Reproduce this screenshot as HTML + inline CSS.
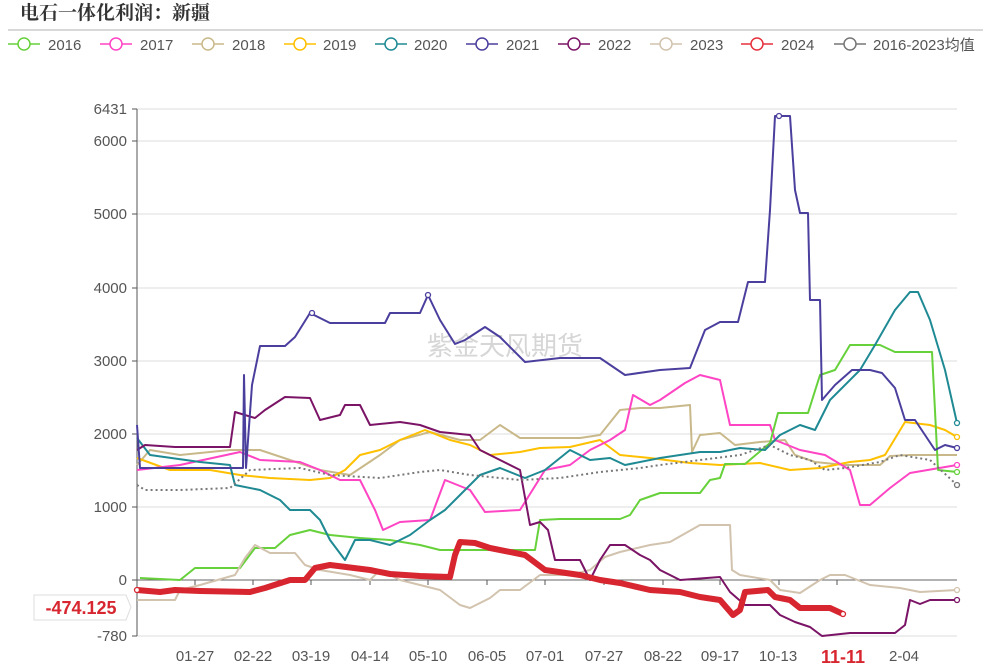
<!DOCTYPE html>
<html><head><meta charset="utf-8"><style>
body{margin:0;background:#fff;width:983px;height:667px;overflow:hidden;font-family:"Liberation Sans","Noto Sans CJK SC",sans-serif}
</style></head><body>
<svg width="983" height="667" xmlns="http://www.w3.org/2000/svg" font-family="Liberation Sans, Noto Sans CJK SC, sans-serif">
<text x="20" y="19" font-size="19" font-weight="bold" fill="#333" font-family="Noto Serif CJK SC, serif">电石一体化利润：新疆</text>
<line x1="8" y1="30" x2="983" y2="30" stroke="#ccc" stroke-width="1.5"/>
<g font-size="15" fill="#555">
<g fill="none" stroke-width="1.5">
<line x1="8" y1="44" x2="40" y2="44" stroke="#66d13a"/><circle cx="24" cy="44" r="6" fill="#fff" stroke="#66d13a"/>
<line x1="100" y1="44" x2="132" y2="44" stroke="#ff44c4"/><circle cx="116" cy="44" r="6" fill="#fff" stroke="#ff44c4"/>
<line x1="192" y1="44" x2="224" y2="44" stroke="#c9b98a"/><circle cx="208" cy="44" r="6" fill="#fff" stroke="#c9b98a"/>
<line x1="284" y1="44" x2="316" y2="44" stroke="#ffc000"/><circle cx="300" cy="44" r="6" fill="#fff" stroke="#ffc000"/>
<line x1="375" y1="44" x2="407" y2="44" stroke="#1f8a93"/><circle cx="391" cy="44" r="6" fill="#fff" stroke="#1f8a93"/>
<line x1="466" y1="44" x2="498" y2="44" stroke="#4b3f9e"/><circle cx="482" cy="44" r="6" fill="#fff" stroke="#4b3f9e"/>
<line x1="558" y1="44" x2="590" y2="44" stroke="#7b1466"/><circle cx="574" cy="44" r="6" fill="#fff" stroke="#7b1466"/>
<line x1="650" y1="44" x2="682" y2="44" stroke="#d2c3ae"/><circle cx="666" cy="44" r="6" fill="#fff" stroke="#d2c3ae"/>
<line x1="741" y1="44" x2="773" y2="44" stroke="#e5323e"/><circle cx="757" cy="44" r="6" fill="#fff" stroke="#e5323e"/>
<line x1="834" y1="44" x2="866" y2="44" stroke="#777"/><circle cx="850" cy="44" r="6" fill="#fff" stroke="#777"/>
</g>
<text x="48" y="50">2016</text><text x="140" y="50">2017</text><text x="232" y="50">2018</text><text x="323" y="50">2019</text><text x="414" y="50">2020</text><text x="506" y="50">2021</text><text x="598" y="50">2022</text><text x="690" y="50">2023</text><text x="781" y="50">2024</text><text x="873" y="50">2016-2023均值</text>
</g>
<g stroke="#ddd" stroke-width="1">
<line x1="137" y1="109" x2="957" y2="109"/><line x1="137" y1="141" x2="957" y2="141"/><line x1="137" y1="214" x2="957" y2="214"/><line x1="137" y1="288" x2="957" y2="288"/><line x1="137" y1="361" x2="957" y2="361"/><line x1="137" y1="434" x2="957" y2="434"/><line x1="137" y1="507" x2="957" y2="507"/><line x1="137" y1="636" x2="957" y2="636"/>
</g>
<line x1="137" y1="580" x2="957" y2="580" stroke="#666" stroke-width="1"/>
<line x1="137" y1="109" x2="137" y2="636" stroke="#555"/>
<g stroke="#555"><line x1="132" y1="109" x2="137" y2="109"/><line x1="132" y1="141" x2="137" y2="141"/><line x1="132" y1="214" x2="137" y2="214"/><line x1="132" y1="288" x2="137" y2="288"/><line x1="132" y1="361" x2="137" y2="361"/><line x1="132" y1="434" x2="137" y2="434"/><line x1="132" y1="507" x2="137" y2="507"/><line x1="132" y1="580" x2="137" y2="580"/><line x1="132" y1="636" x2="137" y2="636"/>
<line x1="195" y1="580" x2="195" y2="585"/><line x1="253" y1="580" x2="253" y2="585"/><line x1="311" y1="580" x2="311" y2="585"/><line x1="370" y1="580" x2="370" y2="585"/><line x1="428" y1="580" x2="428" y2="585"/><line x1="487" y1="580" x2="487" y2="585"/><line x1="545" y1="580" x2="545" y2="585"/><line x1="604" y1="580" x2="604" y2="585"/><line x1="663" y1="580" x2="663" y2="585"/><line x1="720" y1="580" x2="720" y2="585"/><line x1="779" y1="580" x2="779" y2="585"/><line x1="837" y1="580" x2="837" y2="585"/></g>
<g font-size="15" fill="#555" text-anchor="end">
<text x="127" y="114">6431</text><text x="127" y="146">6000</text><text x="127" y="219">5000</text><text x="127" y="293">4000</text><text x="127" y="366">3000</text><text x="127" y="439">2000</text><text x="127" y="512">1000</text><text x="127" y="585">0</text><text x="127" y="641">-780</text>
</g>
<g font-size="15" fill="#555" text-anchor="middle">
<text x="195" y="661">01-27</text><text x="253" y="661">02-22</text><text x="311" y="661">03-19</text><text x="370" y="661">04-14</text><text x="428" y="661">05-10</text><text x="487" y="661">06-05</text><text x="545" y="661">07-01</text><text x="604" y="661">07-27</text><text x="663" y="661">08-22</text><text x="720" y="661">09-17</text><text x="778" y="661">10-13</text><text x="904" y="661">2-04</text>
</g>
<rect x="825" y="645" width="60" height="22" fill="#fff"/>
<text x="843" y="663" font-size="18" font-weight="bold" fill="#d7262f" text-anchor="middle">11-11</text>
<text x="505" y="355" font-size="26" fill="#ccc" text-anchor="middle" opacity="0.8">紫金天风期货</text>
<g fill="none" stroke-width="2" stroke-linejoin="round">
<polyline stroke="#c9b98a" points="137,465 150,450 180,455 230,450 260,450 290,460 320,470 350,475 380,455 400,440 430,432 460,440 480,440 500,425 520,438 580,438 600,435 620,410 640,408 660,408 690,405 692,452 700,435 720,433 735,445 760,442 785,440 795,455 815,462 845,465 880,465 890,456 910,455 957,455"/>
<polyline stroke="#ffc000" points="137,458 170,470 210,470 240,475 270,478 310,480 330,478 345,470 360,455 380,450 400,440 425,430 450,440 470,445 490,455 520,452 540,448 570,447 600,440 620,455 650,458 690,463 720,465 760,463 790,470 820,468 850,462 870,460 885,455 905,422 930,425 945,430 957,437"/>
<polyline stroke="#ff44c4" points="137,470 180,465 240,452 260,460 300,462 320,470 340,480 360,480 375,510 383,530 400,522 430,520 445,480 470,490 485,512 520,510 545,470 570,465 590,450 610,440 625,430 633,395 650,405 660,400 685,383 700,375 720,380 730,425 770,425 775,440 800,450 825,455 850,470 860,505 870,505 890,488 910,473 957,465"/>
<polyline stroke="#66d13a" points="140,578 180,580 195,568 240,568 255,548 275,548 290,535 310,530 330,535 360,538 390,540 420,545 440,550 535,550 540,520 560,519 620,519 630,515 640,500 660,493 700,493 710,480 720,478 725,464 745,464 770,443 778,413 808,413 820,375 835,370 850,345 880,345 895,352 932,352 938,470 957,472"/>
<polyline stroke="#1f8a93" points="137,438 150,455 200,462 230,465 235,485 260,490 280,500 290,510 310,510 320,520 330,540 345,560 355,540 370,540 390,545 410,535 430,520 445,510 460,495 480,475 500,468 525,478 545,470 570,450 590,460 610,458 625,465 660,458 700,452 720,452 740,448 765,450 780,435 800,425 815,430 830,400 860,370 875,345 895,310 910,292 918,292 930,320 945,370 957,423"/>
<polyline stroke="#d2c3ae" points="137,600 175,600 180,590 200,585 235,575 245,558 255,545 270,553 295,553 305,565 320,570 350,575 370,580 380,570 400,580 420,585 440,590 460,605 470,608 490,598 500,590 520,590 540,575 570,575 590,570 605,557 620,552 650,545 670,542 700,525 730,525 732,570 740,575 770,580 780,590 800,593 820,580 830,575 845,575 870,585 900,588 920,592 957,590"/>
<polyline stroke="#7b1466" points="137,450 145,445 175,447 230,447 235,412 255,418 265,410 285,397 310,398 320,420 340,415 345,405 360,405 370,425 400,422 420,425 440,432 470,435 480,450 500,460 520,470 530,525 540,522 548,530 555,560 580,560 590,580 600,560 610,545 625,545 640,555 650,560 660,570 680,580 720,577 730,592 745,605 770,605 780,615 795,622 810,627 822,636 850,633 895,633 905,625 910,600 920,604 930,600 957,600"/>
<polyline stroke="#4b3f9e" points="137,425 140,468 243,468 244,375 246,468 252,385 260,346 285,346 295,337 310,313 330,323 385,323 390,313 420,313 428,295 440,320 455,344 465,340 485,327 500,337 525,362 560,358 600,358 625,375 660,370 690,368 705,330 720,322 738,322 748,282 765,282 770,210 775,116 790,116 795,190 800,213 808,213 810,300 820,300 822,400 835,385 852,370 870,370 882,373 895,388 905,420 915,420 935,450 945,445 957,448"/>
<polyline stroke="#777" stroke-dasharray="2,3" points="137,485 145,490 180,490 230,488 250,470 300,468 330,475 380,478 420,472 440,470 470,475 520,480 560,478 600,472 640,468 660,465 700,460 740,455 770,445 790,455 810,460 825,470 845,468 880,462 900,455 930,460 957,485"/>
<polyline stroke="#d7262f" stroke-width="6" points="137,590 160,592 175,590 200,591 250,592 265,588 290,580 305,580 315,568 330,565 370,570 390,574 420,576 450,577 455,555 460,542 475,543 490,548 525,555 545,570 580,575 600,580 620,583 650,590 680,592 700,597 720,600 733,615 740,610 745,592 768,590 775,597 790,600 800,608 830,608 843,614"/>
</g>
<g fill="#fff" stroke-width="1.3">
<circle cx="779" cy="116" r="2.5" stroke="#4b3f9e"/><circle cx="428" cy="295" r="2.5" stroke="#4b3f9e"/><circle cx="312" cy="313" r="2.5" stroke="#4b3f9e"/><circle cx="957" cy="448" r="2.5" stroke="#4b3f9e"/>
<circle cx="957" cy="423" r="2.5" stroke="#1f8a93"/><circle cx="957" cy="600" r="2.5" stroke="#7b1466"/><circle cx="957" cy="590" r="2.5" stroke="#d2c3ae"/><circle cx="957" cy="465" r="2.5" stroke="#ff44c4"/><circle cx="957" cy="472" r="2.5" stroke="#66d13a"/><circle cx="957" cy="437" r="2.5" stroke="#ffc000"/><circle cx="957" cy="485" r="2.5" stroke="#777"/>
<circle cx="137" cy="590" r="2.5" stroke="#d7262f"/><circle cx="843" cy="614" r="2.5" stroke="#d7262f"/>
</g>
<path d="M34,595 H126 L131,607 L126,620 H34 Z" fill="#fff" stroke="#ddd"/>
<text x="81" y="614" font-size="18" font-weight="bold" fill="#d7262f" text-anchor="middle">-474.125</text>
</svg>
</body></html>
